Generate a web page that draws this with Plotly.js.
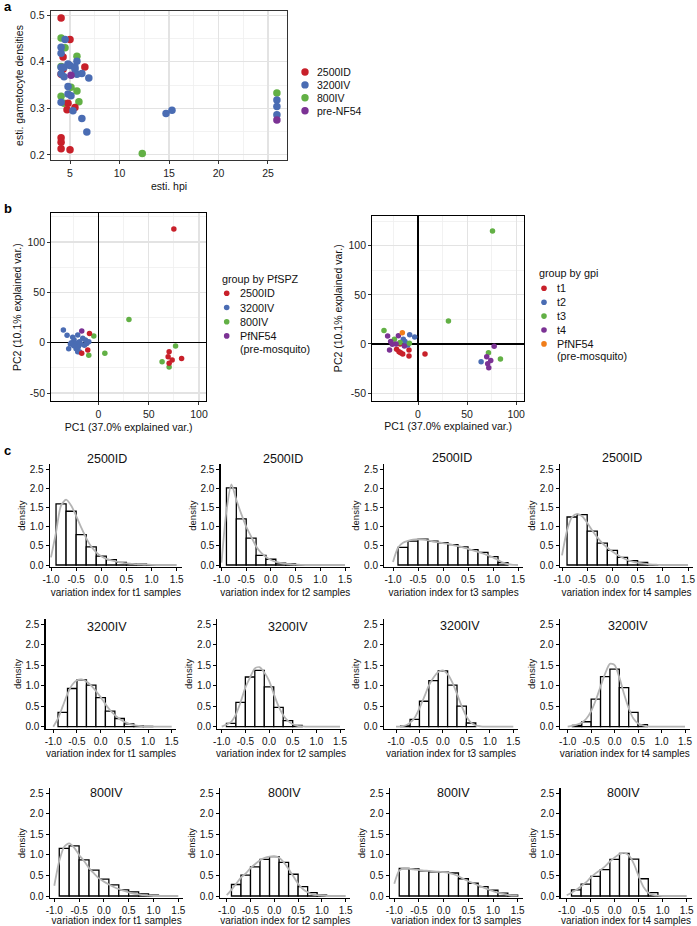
<!DOCTYPE html>
<html>
<head>
<meta charset="utf-8">
<script src="https://cdn.plot.ly/plotly-3.0.1.min.js"></script>
<style>
  html, body { margin: 0; padding: 0; background: #fff; }
  #fig { width: 697px; height: 926px; }
</style>
</head>
<body>
<div id="fig"></div>
<script>
// ---- panel a: estimated hpi vs gametocyte densities ----
const hpi_2500ID = [4.1, 5.0, 4.3, 4.3, 6.5, 4.1, 4.8, 4.7, 5.5, 4.1, 4.1, 4.1, 5.0];
const gam_2500ID = [0.494, 0.448, 0.410, 0.384, 0.389, 0.373, 0.311, 0.297, 0.302, 0.237, 0.227, 0.213, 0.211];
const hpi_3200IV = [4.5, 4.1, 4.1, 4.1, 4.4, 4.8, 5.0, 5.7, 5.5, 5.5, 4.1, 4.4, 5.7, 6.2, 6.9, 4.8, 4.8, 5.1, 4.1, 5.3, 6.2, 6.7, 14.7, 15.3, 25.9, 25.9, 25.9];
const gam_3200IV = [0.448, 0.431, 0.418, 0.388, 0.388, 0.395, 0.392, 0.401, 0.389, 0.384, 0.374, 0.368, 0.373, 0.375, 0.365, 0.347, 0.331, 0.327, 0.313, 0.295, 0.278, 0.249, 0.289, 0.296, 0.318, 0.304, 0.286];
const hpi_800IV = [4.1, 4.5, 4.1, 5.7, 5.1, 5.7, 4.1, 4.4, 5.9, 12.3, 25.9];
const gam_800IV = [0.451, 0.430, 0.390, 0.412, 0.345, 0.337, 0.326, 0.311, 0.314, 0.203, 0.333];
const hpi_preNF54 = [5.1, 25.9];
const gam_preNF54 = [0.371, 0.275];

// ---- panel b: PCA, grouped by PfSPZ ----
const pc1_2500ID = [75, -9, -10.7, -16.7, 70.3, 69.3, 73.3, 70.3, 82.7];
const pc2_2500ID = [113, 9.2, -7.3, -10.6, -8.9, -13.9, -17.2, -20.5, -15.8];
const pc1_3200IV = [-35, -31.3, -29.7, -25.7, -24.3, -27, -28, -20.7, -22.3, -20.7, -19, -22.3, -19, -17.3, -15.7, -13, -14, -11.7, -9.7, -24.7, -20];
const pc2_3200IV = [12.5, 7.3, -5.9, 5.3, 2.6, 0, -1.3, 7.6, -5.9, -8.9, -8.9, -0.7, 1, -1.3, 4.3, 2.6, -2.6, -0.7, 1, -3, -4];
const pc1_800IV = [30.3, -4.7, -9.7, 6.3, 76.7, 63.3, 70.3];
const pc2_800IV = [23.1, 6.6, -12.5, -10.6, -3.3, -18.8, -24.1];
const pc1_PfNF54 = [-16.7];
const pc2_PfNF54 = [11.6];

// ---- panel b: PCA, grouped by gpi ----
const pc1_t1 = [7.1, -21.8, -19.4, -17.7, -15.6, -9.2, -9.2, -18.4];
const pc2_t1 = [-10.2, -5.4, -7.8, -8.8, -10.2, -6.1, -12.2, 0];
const pc1_t2 = [-8.5, -3.4, -15, -13.3, -11.6, -10.5, 64.3];
const pc2_t2 = [9.5, 7.1, 4.7, 2.4, 0, -1, -18];
const pc1_t3 = [75.9, 31, -34.7, -24.1, -18.4, -8.8, 71.8, 84];
const pc2_t3 = [114.9, 23.4, 13.6, 4.7, 1.4, 0.7, -8.8, -15.3];
const pc1_t4 = [-31, -20, -27.9, -26.2, -22.4, -29, -13.9, 77.6, 70, 74.1, 71, 72.1];
const pc2_t4 = [8.1, 8.5, 2.4, -0.3, 0, -6.1, -2, -2.4, -12.9, -16.9, -20, -24.1];
const pc1_gpiNF54 = [-16];
const pc2_gpiNF54 = [11.5];

// ---- panel c: histograms of the variation index ----
const bin_mid = [-0.8, -0.6, -0.4, -0.2, 0.0, 0.2, 0.4, 0.6, 0.8, 1.0, 1.2, 1.4];
const hist_2500ID_t1 = [1.59, 1.40, 0.79, 0.47, 0.23, 0.14, 0.07, 0.03, 0.02, 0.01, 0, 0];
const hist_2500ID_t2 = [2.01, 1.20, 0.70, 0.25, 0.15, 0.05, 0.03, 0.01, 0, 0, 0, 0];
const hist_2500ID_t3 = [0.46, 0.62, 0.67, 0.62, 0.58, 0.53, 0.47, 0.40, 0.33, 0.22, 0.06, 0];
const hist_2500ID_t4 = [1.25, 1.31, 0.88, 0.57, 0.38, 0.20, 0.11, 0.07, 0.01, 0, 0, 0];
const hist_3200IV_t1 = [0.35, 0.93, 1.14, 1.01, 0.71, 0.38, 0.20, 0.07, 0.02, 0.01, 0, 0];
const hist_3200IV_t2 = [0.08, 0.59, 1.21, 1.37, 0.97, 0.47, 0.15, 0.03, 0, 0, 0, 0];
const hist_3200IV_t3 = [0.02, 0.18, 0.62, 1.12, 1.36, 1.01, 0.50, 0.09, 0, 0, 0, 0];
const hist_3200IV_t4 = [0.03, 0.12, 0.67, 1.22, 1.40, 0.95, 0.35, 0.05, 0, 0, 0, 0];
const hist_800IV_t1 = [1.16, 1.22, 0.88, 0.63, 0.41, 0.27, 0.15, 0.10, 0.05, 0.02, 0, 0];
const hist_800IV_t2 = [0.28, 0.51, 0.71, 0.89, 0.96, 0.82, 0.53, 0.23, 0.08, 0.02, 0, 0];
const hist_800IV_t3 = [0.67, 0.66, 0.61, 0.59, 0.58, 0.56, 0.42, 0.31, 0.23, 0.14, 0.07, 0.02];
const hist_800IV_t4 = [0.15, 0.29, 0.48, 0.64, 0.89, 1.04, 0.90, 0.42, 0.08, 0.01, 0, 0];

const dens_x = [-1.0, -0.9, -0.8, -0.7, -0.6, -0.5, -0.4, -0.3, -0.2, -0.1, 0.0, 0.1, 0.2, 0.3, 0.4, 0.5, 0.6, 0.7, 0.8, 0.9, 1.0, 1.1, 1.2, 1.3, 1.4, 1.5];
const dens_2500ID_t1 = [0.2, 0.85, 1.55, 1.7, 1.55, 1.28, 0.98, 0.7, 0.48, 0.33, 0.23, 0.16, 0.12, 0.09, 0.06, 0.04, 0.03, 0.02, 0.015, 0.01, 0.005, 0, 0, 0, 0, 0];
const dens_2500ID_t2 = [0.06, 1.4, 2.1, 1.7, 1.33, 1.0, 0.74, 0.49, 0.32, 0.21, 0.13, 0.08, 0.05, 0.03, 0.02, 0.01, 0.005, 0, 0, 0, 0, 0, 0, 0, 0, 0];
const dens_2500ID_t3 = [0.08, 0.45, 0.58, 0.63, 0.66, 0.67, 0.66, 0.64, 0.61, 0.59, 0.57, 0.55, 0.52, 0.49, 0.46, 0.42, 0.38, 0.34, 0.3, 0.25, 0.2, 0.13, 0.06, 0.02, 0.005, 0];
const dens_2500ID_t4 = [0.25, 0.9, 1.25, 1.33, 1.27, 1.1, 0.9, 0.72, 0.57, 0.45, 0.35, 0.26, 0.19, 0.13, 0.09, 0.06, 0.04, 0.02, 0.01, 0.005, 0, 0, 0, 0, 0, 0];
const dens_3200IV_t1 = [0, 0.2, 0.5, 0.8, 1.02, 1.13, 1.15, 1.1, 1.0, 0.87, 0.72, 0.55, 0.4, 0.28, 0.19, 0.12, 0.07, 0.04, 0.02, 0.01, 0.01, 0, 0, 0, 0, 0];
const dens_3200IV_t2 = [0, 0.05, 0.12, 0.3, 0.6, 0.95, 1.2, 1.42, 1.45, 1.32, 1.12, 0.8, 0.5, 0.28, 0.14, 0.06, 0.02, 0.01, 0, 0, 0, 0, 0, 0, 0, 0];
const dens_3200IV_t3 = [0, 0.01, 0.03, 0.1, 0.22, 0.45, 0.72, 1.0, 1.2, 1.33, 1.37, 1.28, 1.08, 0.8, 0.5, 0.25, 0.1, 0.03, 0.01, 0, 0, 0, 0, 0, 0, 0];
const dens_3200IV_t4 = [0, 0.02, 0.05, 0.1, 0.2, 0.38, 0.65, 0.98, 1.3, 1.53, 1.5, 1.2, 0.8, 0.45, 0.2, 0.08, 0.03, 0.01, 0, 0, 0, 0, 0, 0, 0, 0];
const dens_800IV_t1 = [0.25, 0.85, 1.2, 1.28, 1.18, 1.0, 0.85, 0.68, 0.55, 0.43, 0.35, 0.28, 0.22, 0.17, 0.13, 0.09, 0.06, 0.04, 0.02, 0.01, 0, 0, 0, 0, 0, 0];
const dens_800IV_t2 = [0.02, 0.15, 0.3, 0.45, 0.55, 0.68, 0.78, 0.87, 0.93, 0.96, 0.97, 0.93, 0.82, 0.66, 0.48, 0.3, 0.17, 0.09, 0.04, 0.02, 0.01, 0, 0, 0, 0, 0];
const dens_800IV_t3 = [0.3, 0.62, 0.67, 0.66, 0.65, 0.63, 0.62, 0.61, 0.6, 0.59, 0.58, 0.56, 0.53, 0.48, 0.42, 0.36, 0.31, 0.26, 0.21, 0.16, 0.12, 0.08, 0.05, 0.03, 0.01, 0.01];
const dens_800IV_t4 = [0.02, 0.08, 0.15, 0.24, 0.33, 0.45, 0.55, 0.63, 0.72, 0.84, 0.94, 1.02, 1.05, 0.98, 0.78, 0.48, 0.22, 0.08, 0.03, 0.01, 0, 0, 0, 0, 0, 0];

const groups = ['2500ID', '3200IV', '800IV'];
const timepoints = ['t1', 't2', 't3', 't4'];
const hist_x_ticks = [-1.0, -0.5, 0.0, 0.5, 1.0, 1.5];
const hist_x_labels = ['-1.0', '-0.5', '0.0', '0.5', '1.0', '1.5'];
const hist_y_ticks = [0, 0.5, 1.0, 1.5, 2.0, 2.5];
const hist_y_labels = ['0.0', '0.5', '1.0', '1.5', '2.0', '2.5'];
const pc_ticks = [-50, 0, 50, 100];
const pc_labels = ['-50', '0', '50', '100'];

const histTable = [
  [hist_2500ID_t1, hist_2500ID_t2, hist_2500ID_t3, hist_2500ID_t4],
  [hist_3200IV_t1, hist_3200IV_t2, hist_3200IV_t3, hist_3200IV_t4],
  [hist_800IV_t1, hist_800IV_t2, hist_800IV_t3, hist_800IV_t4],
];
const densTable = [
  [dens_2500ID_t1, dens_2500ID_t2, dens_2500ID_t3, dens_2500ID_t4],
  [dens_3200IV_t1, dens_3200IV_t2, dens_3200IV_t3, dens_3200IV_t4],
  [dens_800IV_t1, dens_800IV_t2, dens_800IV_t3, dens_800IV_t4],
];

// ---- styling / geometry ----
const W = 697, H = 926;
const FONT = 'Liberation Sans, Arial, Helvetica, sans-serif';
const RED = '#c8202a', BLUE = '#4a6cb3', GREEN = '#62b045', PURPLE = '#7b3294', ORANGE = '#f07d1a';

const px = (v) => v / W;
const py = (v) => 1 - v / H;
const xdom = (a, b) => [px(a), px(b)];
const ydom = (top, bot) => [py(bot), py(top)];

// histogram panels: rows give y pixel of 0.0 and 2.5, cols give [axis line x, x of -1.0, x of 1.5]
const histRows = [{zero: 565, top: 469}, {zero: 726.7, top: 624}, {zero: 896, top: 793.3}];
const histCols = [
  [[50, 51, 176.7], [220.7, 221.5, 345], [384.3, 393, 518], [560, 562, 688]],
  [[45.7, 53.3, 171.7], [217.3, 221.7, 340], [384, 396, 513.3], [560, 567.7, 685]],
  [[50, 54.3, 178.3], [220, 226.7, 345.7], [390, 394.3, 517.7], [560.7, 566.7, 686.7]],
];
const histTitlePos = [
  [[107, 459], [283, 459], [452, 458], [622, 458]],
  [[107, 627], [288, 627], [460, 626], [628, 626]],
  [[107, 793], [284, 793], [453, 793], [623, 793]],
];

const traces = [];
function scatter(x, y, color, size, ax) {
  traces.push({
    type: 'scatter', mode: 'markers', x: x, y: y,
    xaxis: 'x' + ax, yaxis: 'y' + ax,
    marker: {color: color, size: size, line: {width: 0}},
    hoverinfo: 'skip',
  });
}

// panel a
scatter(hpi_800IV, gam_800IV, GREEN, 7.5, '');
scatter(hpi_2500ID, gam_2500ID, RED, 7.5, '');
scatter(hpi_3200IV, gam_3200IV, BLUE, 7.5, '');
scatter(hpi_preNF54, gam_preNF54, PURPLE, 7.5, '');
// panel b left
scatter(pc1_3200IV, pc2_3200IV, BLUE, 5.5, '2');
scatter(pc1_800IV, pc2_800IV, GREEN, 5.5, '2');
scatter(pc1_2500ID, pc2_2500ID, RED, 5.5, '2');
scatter(pc1_PfNF54, pc2_PfNF54, PURPLE, 5.5, '2');
// panel b right
scatter(pc1_t1, pc2_t1, RED, 5.5, '3');
scatter(pc1_t2, pc2_t2, BLUE, 5.5, '3');
scatter(pc1_t3, pc2_t3, GREEN, 5.5, '3');
scatter(pc1_t4, pc2_t4, PURPLE, 5.5, '3');
scatter(pc1_gpiNF54, pc2_gpiNF54, ORANGE, 5.5, '3');

const tickFont = {family: FONT, size: 10.5, color: '#222'};
const titleFont = {family: FONT, size: 10.5, color: '#111'};
const histTickFont = {family: FONT, size: 10, color: '#111'};
const histTitleFont = {family: FONT, size: 10, color: '#111'};

const gridAxis = {
  showgrid: true, gridcolor: '#e3e3e3', gridwidth: 1.1,
  showline: true, mirror: true, linewidth: 1.2,
  ticks: 'outside', ticklen: 3, tickcolor: '#333', tickwidth: 1,
  tickfont: tickFont, fixedrange: true,
};

const layout = {
  width: W, height: H,
  margin: {l: 0, r: 0, t: 0, b: 0},
  paper_bgcolor: '#fff', plot_bgcolor: 'rgba(0,0,0,0)',
  showlegend: false,
  font: {family: FONT, color: '#111'},
  xaxis: Object.assign({}, gridAxis, {
    domain: xdom(51, 287), anchor: 'y', range: [3.08, 26.92],
    tickmode: 'linear', tick0: 0, dtick: 5, linecolor: '#333', zeroline: false,
    minor: {showgrid: true, tickmode: 'linear', tick0: 0, dtick: 2.5, gridcolor: '#efefef', gridwidth: 0.8},
    title: {text: 'esti. hpi', font: titleFont, standoff: 4},
  }),
  yaxis: Object.assign({}, gridAxis, {
    domain: ydom(11, 160), anchor: 'x', range: [0.189, 0.509],
    tickmode: 'linear', tick0: 0, dtick: 0.1, linecolor: '#333', zeroline: false,
    minor: {showgrid: true, tickmode: 'linear', tick0: 0, dtick: 0.05, gridcolor: '#efefef', gridwidth: 0.8},
    title: {text: 'esti. gametocyte densities', font: titleFont, standoff: 4},
  }),
  annotations: [],
  shapes: [],
};

function pcaAxes(n, xd, yd, xr, yr) {
  layout['xaxis' + n] = Object.assign({}, gridAxis, {
    domain: xd, anchor: 'y' + n, range: xr,
    tickmode: 'array', tickvals: pc_ticks, ticktext: pc_labels, linecolor: '#000',
    minor: {showgrid: true, tickmode: 'linear', tick0: 0, dtick: 25, gridcolor: '#efefef', gridwidth: 0.8},
    zeroline: true, zerolinecolor: '#000', zerolinewidth: 1.2,
    title: {text: 'PC1 (37.0% explained var.)', font: titleFont, standoff: 4},
  });
  layout['yaxis' + n] = Object.assign({}, gridAxis, {
    domain: yd, anchor: 'x' + n, range: yr,
    tickmode: 'array', tickvals: pc_ticks, ticktext: pc_labels, linecolor: '#000',
    minor: {showgrid: true, tickmode: 'linear', tick0: 0, dtick: 25, gridcolor: '#efefef', gridwidth: 0.8},
    zeroline: true, zerolinecolor: '#000', zerolinewidth: 1.2,
    title: {text: 'PC2 (10.1% explained var.)', font: titleFont, standoff: 3},
  });
}
pcaAxes(2, xdom(51.3, 206), ydom(213.3, 401), [-47, 107], [-57.9, 128.5]);
pcaAxes(3, xdom(372.3, 524), ydom(215.7, 400.7), [-46.6, 108], [-57.7, 130.5]);

// panel c
groups.forEach((g, r) => {
  const row = histRows[r];
  const ppuY = (row.zero - row.top) / 2.5;
  timepoints.forEach((t, c) => {
    const n = 4 + r * 4 + c;
    const [axisX, a, b] = histCols[r][c];
    const ppuX = (b - a) / 2.5;
    const xLeft = -1.0 - (a - axisX) / ppuX;
    const xRightPx = b + 0.1 * ppuX;
    traces.push({
      type: 'bar', x: bin_mid, y: histTable[r][c].map((v) => (v > 0 ? v : null)),
      width: 0.2, xaxis: 'x' + n, yaxis: 'y' + n,
      marker: {color: '#fff', line: {color: '#000', width: 1.3}},
      hoverinfo: 'skip',
    });
    traces.push({
      type: 'scatter', mode: 'lines', x: dens_x, y: densTable[r][c],
      xaxis: 'x' + n, yaxis: 'y' + n,
      line: {color: '#b4b4b4', width: 1.8, shape: 'spline', smoothing: 0.7},
      hoverinfo: 'skip',
    });
    layout['xaxis' + n] = {
      domain: xdom(axisX, xRightPx), anchor: 'y' + n, range: [xLeft, 1.6],
      tickmode: 'array', tickvals: hist_x_ticks, ticktext: hist_x_labels,
      showgrid: false, zeroline: false, showline: true, linecolor: '#000', linewidth: 1.3,
      ticks: 'outside', ticklen: 3, tickcolor: '#000', tickwidth: 1, tickfont: histTickFont,
      title: {text: 'variation index for ' + t + ' samples', font: histTitleFont, standoff: 4},
      fixedrange: true,
    };
    layout['yaxis' + n] = {
      domain: ydom(row.top - 0.12 * ppuY, row.zero + 0.05 * ppuY), anchor: 'x' + n, range: [-0.05, 2.62],
      tickmode: 'array', tickvals: hist_y_ticks, ticktext: hist_y_labels,
      showgrid: false, zeroline: false, showline: true, linecolor: '#000', linewidth: 1.3,
      ticks: 'outside', ticklen: 3, tickcolor: '#000', tickwidth: 1, tickfont: histTickFont,
      title: {text: 'density', font: {family: FONT, size: 9.5, color: '#111'}, standoff: 2},
      fixedrange: true,
    };
    const [tx, ty] = histTitlePos[r][c];
    layout.annotations.push({
      xref: 'paper', yref: 'paper', x: px(tx), y: py(ty), xanchor: 'center', yanchor: 'middle',
      text: g, showarrow: false, font: {family: FONT, size: 12.5, color: '#111'},
    });
  });
});

// legends and panel letters
function text(x, y, s, opts) {
  layout.annotations.push(Object.assign({
    xref: 'paper', yref: 'paper', x: px(x), y: py(y), xanchor: 'left', yanchor: 'middle',
    text: s, showarrow: false, font: {family: FONT, size: 10.8, color: '#111'},
  }, opts || {}));
}
function dot(x, y, color, r) {
  layout.shapes.push({
    type: 'circle', xref: 'paper', yref: 'paper', xsizemode: 'pixel', ysizemode: 'pixel',
    xanchor: px(x), yanchor: py(y), x0: -r, x1: r, y0: -r, y1: r,
    fillcolor: color, line: {width: 0},
  });
}

const legA = [['2500ID', RED], ['3200IV', BLUE], ['800IV', GREEN], ['pre-NF54', PURPLE]];
legA.forEach(([s, col], i) => {
  const y = 72 + i * 12.9;
  dot(305, y, col, 3.7);
  text(315, y, s, {font: {family: FONT, size: 10.5, color: '#111'}});
});

text(220, 279, 'group by PfSPZ');
const legB1 = [['2500ID', RED], ['3200IV', BLUE], ['800IV', GREEN], ['PfNF54', PURPLE]];
legB1.forEach(([s, col], i) => {
  const y = 293.3 + i * 14.2;
  dot(226.7, y, col, 2.8);
  text(237.7, y, s);
});
text(237.7, 348.5, '(pre-mosquito)');

text(537.3, 272.7, 'group by gpi');
const legB2 = [['t1', RED], ['t2', BLUE], ['t3', GREEN], ['t4', PURPLE], ['PfNF54', ORANGE]];
legB2.forEach(([s, col], i) => {
  const y = 288.3 + i * 13.9;
  dot(544, y, col, 2.8);
  text(555, y, s);
});
text(555, 356, '(pre-mosquito)');

const letterFont = {family: FONT, size: 13, color: '#000'};
text(2, 7, '<b>a</b>', {font: letterFont});
text(2, 208, '<b>b</b>', {font: letterFont});
text(2, 451, '<b>c</b>', {font: letterFont});

Plotly.newPlot('fig', traces, layout, {staticPlot: true, displayModeBar: false});
</script>
</body>
</html>
